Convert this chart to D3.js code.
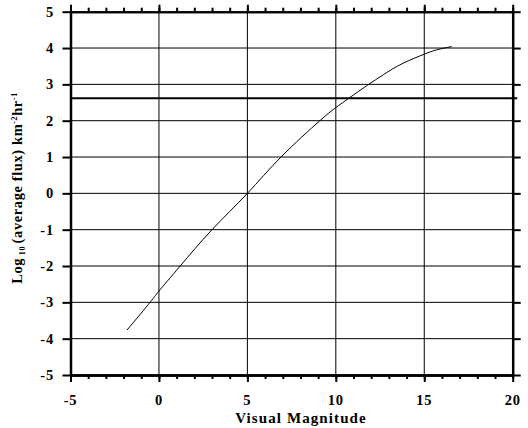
<!DOCTYPE html>
<html>
<head>
<meta charset="utf-8">
<script src="https://cdn.jsdelivr.net/npm/d3@7"></script>
<style>
  html, body { margin: 0; padding: 0; background: #fff; }
  svg { display: block; }
  text { font-family: "Liberation Serif", "Times New Roman", serif; font-weight: bold; fill: #000; }
</style>
</head>
<body>
<svg id="chart" width="528" height="428"></svg>
<script>
// Flux curve: visual magnitude vs log10 of average flux
const magnitude = [-1.8, -0.5, 0, 1.2, 3.0, 5.0, 6.9, 9.1, 10.0, 10.8, 11.8, 12.7, 13.8, 15.0, 15.7, 16.55];
const logFlux   = [-3.76, -3.0, -2.69, -2.0, -1.0, 0.0, 1.0, 2.0, 2.36, 2.64, 2.98, 3.27, 3.58, 3.83, 3.95, 4.04];
const threshold = [2.62];

const xTickLabels = [-5, 0, 5, 10, 15, 20];
const yTickLabels = [-5, -4, -3, -2, -1, 0, 1, 2, 3, 4, 5];
const xMinorTicks = d3.range(-5, 21, 1);

const svg = d3.select("#chart");
const x = d3.scaleLinear().domain([-5, 20]).range([70.5, 512.7]);
const y = d3.scaleLinear().domain([-5, 5]).range([375, 11.7]);

// Grid lines
const grid = svg.append("g").attr("stroke", "#000").attr("stroke-width", 1);
grid.selectAll("line.v").data(xTickLabels.slice(1, -1)).join("line")
  .attr("x1", d => x(d)).attr("x2", d => x(d))
  .attr("y1", y(5)).attr("y2", y(-5));
grid.selectAll("line.h").data(yTickLabels.slice(1, -1)).join("line")
  .attr("x1", x(-5)).attr("x2", x(20))
  .attr("y1", d => y(d)).attr("y2", d => y(d));

// Threshold line
svg.append("g").selectAll("line").data(threshold).join("line")
  .attr("x1", x(-5)).attr("x2", x(20) + 4.5)
  .attr("y1", d => y(d)).attr("y2", d => y(d))
  .attr("stroke", "#000").attr("stroke-width", 2);

// Axes
function styleAxis(g, width) {
  g.select(".domain").attr("stroke-width", width);
  g.selectAll(".tick line").attr("stroke-width", 2);
  g.selectAll("text").remove();
}
const xMajor = d3.axisBottom(x).tickValues(xTickLabels).tickSize(7).tickSizeOuter(0);
const xMinor = d3.axisBottom(x).tickValues(xMinorTicks).tickSize(4).tickSizeOuter(0);
svg.append("g").attr("transform", `translate(0,${y(-5)})`).call(xMinor).call(g => styleAxis(g, 2.5));
svg.append("g").attr("transform", `translate(0,${y(-5)})`).call(xMajor).call(g => styleAxis(g, 2.5));
svg.append("g").attr("transform", `translate(0,${y(5)})`).call(d3.axisTop(x).tickValues(xMinorTicks).tickSize(4).tickSizeOuter(0)).call(g => styleAxis(g, 2));
svg.append("g").attr("transform", `translate(0,${y(5)})`).call(d3.axisTop(x).tickValues(xTickLabels).tickSize(7).tickSizeOuter(0)).call(g => styleAxis(g, 2));
svg.append("g").attr("transform", `translate(${x(-5)},0)`).call(d3.axisLeft(y).tickValues(yTickLabels).tickSize(8).tickSizeOuter(0)).call(g => styleAxis(g, 2.5));
svg.append("g").attr("transform", `translate(${x(20)},0)`).call(d3.axisRight(y).tickValues(yTickLabels).tickSize(8).tickSizeOuter(0)).call(g => styleAxis(g, 2.5));

// Tick labels
svg.append("g").selectAll("text").data(xTickLabels).join("text")
  .attr("x", d => x(d)).attr("y", 405)
  .attr("text-anchor", "middle").attr("font-size", 14.5).attr("letter-spacing", 0.8)
  .text(d => d);
svg.append("g").selectAll("text").data(yTickLabels).join("text")
  .attr("x", 54).attr("y", d => y(d) + 5)
  .attr("text-anchor", "end").attr("font-size", 14.5).attr("letter-spacing", 0.8)
  .text(d => d);

// Axis titles
svg.append("text").attr("x", 301).attr("y", 423)
  .attr("text-anchor", "middle").attr("font-size", 15).attr("letter-spacing", 1.1)
  .text("Visual Magnitude");

const yt = svg.append("text")
  .attr("transform", "translate(22,188) rotate(-90)")
  .attr("text-anchor", "middle").attr("font-size", 14.5).attr("letter-spacing", 0.6);
yt.append("tspan").text("Log");
yt.append("tspan").attr("font-size", 8).attr("dy", 3).text(" 10 ");
yt.append("tspan").attr("dy", -3).text("(average flux) km");
yt.append("tspan").attr("font-size", 8).attr("dy", -5).text("-2");
yt.append("tspan").attr("dy", 5).text("hr");
yt.append("tspan").attr("font-size", 8).attr("dy", -5).text("-1");

// Curve
const pts = magnitude.map((m, i) => [m, logFlux[i]]);
svg.append("path").datum(pts)
  .attr("fill", "none").attr("stroke", "#000").attr("stroke-width", 1)
  .attr("d", d3.line().x(d => x(d[0])).y(d => y(d[1])).curve(d3.curveNatural));
</script>
</body>
</html>
